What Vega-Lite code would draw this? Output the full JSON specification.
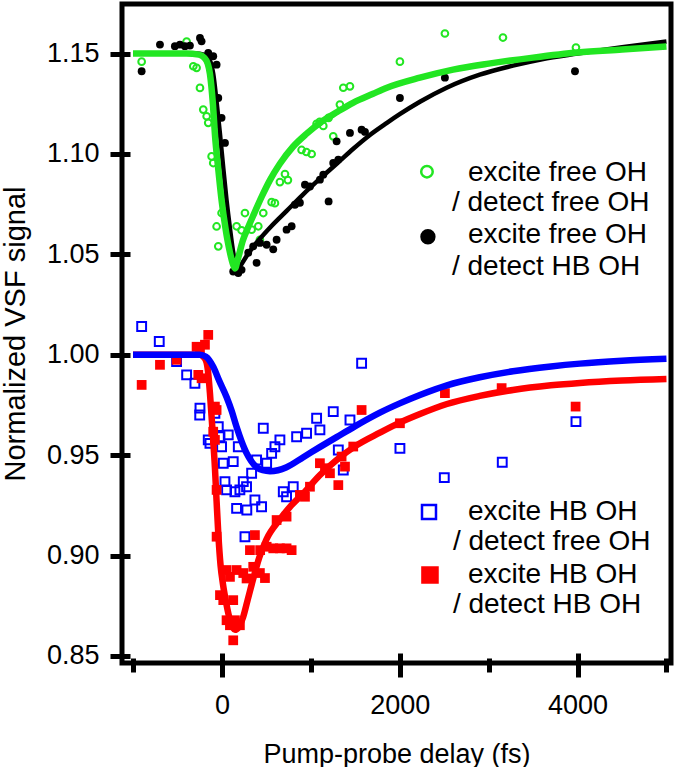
{
  "$schema": "https://vega.github.io/schema/vega-lite/v6.json",
  "width": 549,
  "height": 659,
  "autosize": {"type": "none"},
  "padding": {"left": 122, "top": 4, "right": 9, "bottom": 104},
  "background": "white",
  "config": {
    "view": {"stroke": "black", "strokeWidth": 5},
    "font": "Liberation Sans",
    "axis": {
      "grid": false,
      "domain": false,
      "labelFont": "Liberation Sans",
      "labelFontSize": 27,
      "labelColor": "black",
      "titleFont": "Liberation Sans",
      "titleFontSize": 27,
      "titleFontWeight": "normal",
      "titleColor": "black",
      "tickColor": "black",
      "tickWidth": 5
    }
  },
  "datasets": {
    "pts": [
      {"s":"ff","x":-903,"y":1.146},{"s":"ff","x":-397,"y":1.156},{"s":"ff","x":-322,"y":1.1437},{"s":"ff","x":-285,"y":1.1429},
      {"s":"ff","x":-247,"y":1.1329},{"s":"ff","x":-210,"y":1.1221},{"s":"ff","x":-172,"y":1.1188},{"s":"ff","x":-154,"y":1.1155},
      {"s":"ff","x":-116,"y":1.0988},{"s":"ff","x":-98,"y":1.0955},{"s":"ff","x":-60,"y":1.0639},{"s":"ff","x":-41,"y":1.054},
      {"s":"ff","x":-4,"y":1.0706},{"s":"ff","x":165,"y":1.064},{"s":"ff","x":221,"y":1.062},{"s":"ff","x":259,"y":1.0706},
      {"s":"ff","x":334,"y":1.0623},{"s":"ff","x":409,"y":1.064},{"s":"ff","x":427,"y":1.0573},{"s":"ff","x":465,"y":1.0706},
      {"s":"ff","x":559,"y":1.076},{"s":"ff","x":596,"y":1.0755},{"s":"ff","x":652,"y":1.086},{"s":"ff","x":709,"y":1.09},
      {"s":"ff","x":742,"y":1.087},{"s":"ff","x":896,"y":1.102},{"s":"ff","x":950,"y":1.101},{"s":"ff","x":1009,"y":1.1},
      {"s":"ff","x":1065,"y":1.115},{"s":"ff","x":1100,"y":1.116},{"s":"ff","x":1140,"y":1.114},{"s":"ff","x":1200,"y":1.118},
      {"s":"ff","x":1252,"y":1.1088},{"s":"ff","x":1327,"y":1.1246},{"s":"ff","x":1365,"y":1.133},{"s":"ff","x":1440,"y":1.1337},
      {"s":"ff","x":2002,"y":1.146},{"s":"ff","x":2508,"y":1.16},{"s":"ff","x":3161,"y":1.158},{"s":"ff","x":3982,"y":1.153},
      {"s":"fh","x":-903,"y":1.1412},{"s":"fh","x":-697,"y":1.1545},{"s":"fh","x":-529,"y":1.1537},{"s":"fh","x":-472,"y":1.1545},
      {"s":"fh","x":-416,"y":1.1537},{"s":"fh","x":-360,"y":1.154},{"s":"fh","x":-247,"y":1.1578},{"s":"fh","x":-229,"y":1.1561},
      {"s":"fh","x":-154,"y":1.1503},{"s":"fh","x":-98,"y":1.1487},{"s":"fh","x":-60,"y":1.1445},{"s":"fh","x":-41,"y":1.1279},
      {"s":"fh","x":-4,"y":1.118},{"s":"fh","x":34,"y":1.1055},{"s":"fh","x":127,"y":1.0415},{"s":"fh","x":184,"y":1.0407},
      {"s":"fh","x":221,"y":1.0423},{"s":"fh","x":296,"y":1.0508},{"s":"fh","x":352,"y":1.054},{"s":"fh","x":390,"y":1.0458},
      {"s":"fh","x":427,"y":1.0557},{"s":"fh","x":503,"y":1.0548},{"s":"fh","x":577,"y":1.0525},{"s":"fh","x":615,"y":1.0573},
      {"s":"fh","x":727,"y":1.0623},{"s":"fh","x":784,"y":1.064},{"s":"fh","x":821,"y":1.0747},{"s":"fh","x":877,"y":1.0757},
      {"s":"fh","x":934,"y":1.0847},{"s":"fh","x":990,"y":1.0838},{"s":"fh","x":1102,"y":1.0872},{"s":"fh","x":1140,"y":1.0897},
      {"s":"fh","x":1200,"y":1.0764},{"s":"fh","x":1252,"y":1.0955},{"s":"fh","x":1309,"y":1.0972},{"s":"fh","x":1290,"y":1.1063},
      {"s":"fh","x":1440,"y":1.1105},{"s":"fh","x":1571,"y":1.1121},{"s":"fh","x":1609,"y":1.111},{"s":"fh","x":2002,"y":1.1279},
      {"s":"fh","x":2508,"y":1.138},{"s":"fh","x":3971,"y":1.1412},
      {"s":"hf","x":-903,"y":1.0141},{"s":"hf","x":-705,"y":1.0066},{"s":"hf","x":-510,"y":0.9966},{"s":"hf","x":-397,"y":0.99},
      {"s":"hf","x":-304,"y":0.9858},{"s":"hf","x":-247,"y":0.9734},{"s":"hf","x":-250,"y":0.97},{"s":"hf","x":-154,"y":0.9576},
      {"s":"hf","x":-135,"y":0.9559},{"s":"hf","x":-79,"y":0.9709},{"s":"hf","x":-41,"y":0.9642},{"s":"hf","x":-22,"y":0.9592},
      {"s":"hf","x":-4,"y":0.9542},{"s":"hf","x":15,"y":0.946},{"s":"hf","x":34,"y":0.9368},{"s":"hf","x":52,"y":0.9327},
      {"s":"hf","x":71,"y":0.9601},{"s":"hf","x":127,"y":0.9468},{"s":"hf","x":184,"y":0.9542},{"s":"hf","x":146,"y":0.9318},
      {"s":"hf","x":202,"y":0.9327},{"s":"hf","x":240,"y":0.9368},{"s":"hf","x":277,"y":0.9343},{"s":"hf","x":165,"y":0.9235},
      {"s":"hf","x":280,"y":0.9227},{"s":"hf","x":371,"y":0.9277},{"s":"hf","x":446,"y":0.9243},{"s":"hf","x":259,"y":0.9094},
      {"s":"hf","x":334,"y":0.941},{"s":"hf","x":390,"y":0.9476},{"s":"hf","x":465,"y":0.9634},{"s":"hf","x":503,"y":0.946},
      {"s":"hf","x":559,"y":0.9509},{"s":"hf","x":596,"y":0.9542},{"s":"hf","x":652,"y":0.9576},{"s":"hf","x":690,"y":0.9318},
      {"s":"hf","x":727,"y":0.9293},{"s":"hf","x":802,"y":0.9343},{"s":"hf","x":840,"y":0.9592},{"s":"hf","x":952,"y":0.9609},
      {"s":"hf","x":1065,"y":0.9684},{"s":"hf","x":1102,"y":0.9626},{"s":"hf","x":1252,"y":0.9717},{"s":"hf","x":1309,"y":0.9526},
      {"s":"hf","x":1365,"y":0.9426},{"s":"hf","x":1440,"y":0.9675},{"s":"hf","x":1571,"y":0.9958},{"s":"hf","x":2002,"y":0.9534},
      {"s":"hf","x":2501,"y":0.9388},{"s":"hf","x":3153,"y":0.9465},{"s":"hf","x":3982,"y":0.9667},
      {"s":"hh","x":-903,"y":0.985},{"s":"hh","x":-697,"y":0.995},{"s":"hh","x":-510,"y":0.9975},{"s":"hh","x":-285,"y":1.004},
      {"s":"hh","x":-247,"y":1.0025},{"s":"hh","x":-154,"y":1.0099},{"s":"hh","x":-191,"y":1.005},{"s":"hh","x":-266,"y":0.99},
      {"s":"hh","x":-229,"y":0.9883},{"s":"hh","x":-79,"y":0.9742},{"s":"hh","x":-60,"y":0.9725},{"s":"hh","x":-98,"y":0.9617},
      {"s":"hh","x":-79,"y":0.9576},{"s":"hh","x":-60,"y":0.9327},{"s":"hh","x":-60,"y":0.9094},{"s":"hh","x":-22,"y":0.8803},
      {"s":"hh","x":15,"y":0.8778},{"s":"hh","x":52,"y":0.8928},{"s":"hh","x":90,"y":0.8894},{"s":"hh","x":127,"y":0.8778},
      {"s":"hh","x":52,"y":0.8678},{"s":"hh","x":90,"y":0.8653},{"s":"hh","x":146,"y":0.8678},{"s":"hh","x":202,"y":0.8653},
      {"s":"hh","x":127,"y":0.8578},{"s":"hh","x":165,"y":0.8928},{"s":"hh","x":240,"y":0.8913},{"s":"hh","x":277,"y":0.8886},
      {"s":"hh","x":352,"y":0.8944},{"s":"hh","x":427,"y":0.8913},{"s":"hh","x":484,"y":0.8888},{"s":"hh","x":315,"y":0.9027},
      {"s":"hh","x":371,"y":0.9102},{"s":"hh","x":430,"y":0.9027},{"s":"hh","x":503,"y":0.9044},{"s":"hh","x":577,"y":0.9036},
      {"s":"hh","x":652,"y":0.9036},{"s":"hh","x":727,"y":0.9036},{"s":"hh","x":784,"y":0.9027},{"s":"hh","x":615,"y":0.9177},
      {"s":"hh","x":727,"y":0.9194},{"s":"hh","x":877,"y":0.9302},{"s":"hh","x":934,"y":0.9293},{"s":"hh","x":990,"y":0.9343},
      {"s":"hh","x":1102,"y":0.946},{"s":"hh","x":1159,"y":0.9435},{"s":"hh","x":1215,"y":0.941},{"s":"hh","x":1309,"y":0.9351},
      {"s":"hh","x":1346,"y":0.9493},{"s":"hh","x":1384,"y":0.9443},{"s":"hh","x":1477,"y":0.9543},{"s":"hh","x":1571,"y":0.9725},
      {"s":"hh","x":2002,"y":0.9659},{"s":"hh","x":2508,"y":0.9809},{"s":"hh","x":3146,"y":0.9834},{"s":"hh","x":3978,"y":0.9742}
    ],
    "fits": [
      {"s":"fh","x":-1000,"y":1.15},{"s":"fh","x":-300,"y":1.15},{"s":"fh","x":-200,"y":1.1495},{"s":"fh","x":-140,"y":1.147},
      {"s":"fh","x":-98,"y":1.14},{"s":"fh","x":-60,"y":1.126},{"s":"fh","x":-22,"y":1.11},{"s":"fh","x":15,"y":1.093},
      {"s":"fh","x":52,"y":1.077},{"s":"fh","x":90,"y":1.063},{"s":"fh","x":127,"y":1.051},{"s":"fh","x":150,"y":1.046},
      {"s":"fh","x":170,"y":1.043},{"s":"fh","x":210,"y":1.0445},{"s":"fh","x":260,"y":1.048},{"s":"fh","x":330,"y":1.0525},
      {"s":"fh","x":427,"y":1.0578},{"s":"fh","x":550,"y":1.0638},{"s":"fh","x":731,"y":1.0718},{"s":"fh","x":900,"y":1.0793},
      {"s":"fh","x":1102,"y":1.0877},{"s":"fh","x":1300,"y":1.0955},{"s":"fh","x":1474,"y":1.1025},{"s":"fh","x":1650,"y":1.109},
      {"s":"fh","x":1856,"y":1.1155},{"s":"fh","x":2000,"y":1.1198},{"s":"fh","x":2227,"y":1.126},{"s":"fh","x":2527,"y":1.133},
      {"s":"fh","x":2900,"y":1.1395},{"s":"fh","x":3273,"y":1.144},{"s":"fh","x":3600,"y":1.1472},{"s":"fh","x":4000,"y":1.15},
      {"s":"fh","x":4500,"y":1.1532},{"s":"fh","x":5000,"y":1.156},
      {"s":"ff","x":-1000,"y":1.15},{"s":"ff","x":-400,"y":1.15},{"s":"ff","x":-260,"y":1.1495},{"s":"ff","x":-200,"y":1.148},
      {"s":"ff","x":-160,"y":1.145},{"s":"ff","x":-135,"y":1.14},{"s":"ff","x":-100,"y":1.124},{"s":"ff","x":-79,"y":1.11},
      {"s":"ff","x":-40,"y":1.092},{"s":"ff","x":-4,"y":1.077},{"s":"ff","x":40,"y":1.063},{"s":"ff","x":90,"y":1.051},
      {"s":"ff","x":125,"y":1.045},{"s":"ff","x":148,"y":1.043},{"s":"ff","x":175,"y":1.047},{"s":"ff","x":236,"y":1.057},
      {"s":"ff","x":300,"y":1.064},{"s":"ff","x":349,"y":1.069},{"s":"ff","x":450,"y":1.079},{"s":"ff","x":540,"y":1.087},
      {"s":"ff","x":650,"y":1.095},{"s":"ff","x":799,"y":1.1036},{"s":"ff","x":950,"y":1.11},{"s":"ff","x":1102,"y":1.1155},
      {"s":"ff","x":1300,"y":1.121},{"s":"ff","x":1474,"y":1.1255},{"s":"ff","x":1700,"y":1.13},{"s":"ff","x":1856,"y":1.133},
      {"s":"ff","x":2227,"y":1.138},{"s":"ff","x":2600,"y":1.142},{"s":"ff","x":3000,"y":1.145},{"s":"ff","x":3500,"y":1.148},
      {"s":"ff","x":4000,"y":1.1505},{"s":"ff","x":4500,"y":1.152},{"s":"ff","x":5000,"y":1.1535},
      {"s":"hh","x":-1000,"y":1.0},{"s":"hh","x":-250,"y":1.0},{"s":"hh","x":-190,"y":0.998},{"s":"hh","x":-160,"y":0.993},
      {"s":"hh","x":-135,"y":0.981},{"s":"hh","x":-110,"y":0.965},{"s":"hh","x":-79,"y":0.944},{"s":"hh","x":-60,"y":0.927},
      {"s":"hh","x":-41,"y":0.911},{"s":"hh","x":-15,"y":0.895},{"s":"hh","x":11,"y":0.886},{"s":"hh","x":50,"y":0.876},
      {"s":"hh","x":90,"y":0.868},{"s":"hh","x":146,"y":0.863},{"s":"hh","x":190,"y":0.8645},{"s":"hh","x":236,"y":0.869},
      {"s":"hh","x":290,"y":0.878},{"s":"hh","x":349,"y":0.888},{"s":"hh","x":420,"y":0.899},{"s":"hh","x":500,"y":0.908},
      {"s":"hh","x":652,"y":0.918},{"s":"hh","x":780,"y":0.925},{"s":"hh","x":915,"y":0.931},{"s":"hh","x":1100,"y":0.94},
      {"s":"hh","x":1290,"y":0.9476},{"s":"hh","x":1500,"y":0.9545},{"s":"hh","x":1777,"y":0.9612},{"s":"hh","x":2000,"y":0.9662},
      {"s":"hh","x":2227,"y":0.9705},{"s":"hh","x":2531,"y":0.9755},{"s":"hh","x":2900,"y":0.9795},{"s":"hh","x":3273,"y":0.9825},
      {"s":"hh","x":3700,"y":0.9848},{"s":"hh","x":4027,"y":0.986},{"s":"hh","x":4500,"y":0.9872},{"s":"hh","x":5000,"y":0.988},
      {"s":"hf","x":-1000,"y":1.0},{"s":"hf","x":-250,"y":1.0},{"s":"hf","x":-180,"y":0.999},{"s":"hf","x":-98,"y":0.994},
      {"s":"hf","x":-30,"y":0.987},{"s":"hf","x":52,"y":0.979},{"s":"hf","x":110,"y":0.972},{"s":"hf","x":165,"y":0.964},
      {"s":"hf","x":220,"y":0.957},{"s":"hf","x":277,"y":0.951},{"s":"hf","x":330,"y":0.947},{"s":"hf","x":390,"y":0.944},
      {"s":"hf","x":460,"y":0.9425},{"s":"hf","x":540,"y":0.942},{"s":"hf","x":630,"y":0.9425},{"s":"hf","x":727,"y":0.944},
      {"s":"hf","x":915,"y":0.949},{"s":"hf","x":1100,"y":0.954},{"s":"hf","x":1290,"y":0.959},{"s":"hf","x":1500,"y":0.9645},
      {"s":"hf","x":1777,"y":0.9712},{"s":"hf","x":2000,"y":0.9758},{"s":"hf","x":2227,"y":0.98},{"s":"hf","x":2531,"y":0.9848},
      {"s":"hf","x":2900,"y":0.9888},{"s":"hf","x":3273,"y":0.9918},{"s":"hf","x":3700,"y":0.9942},{"s":"hf","x":4027,"y":0.9956},
      {"s":"hf","x":4500,"y":0.997},{"s":"hf","x":5000,"y":0.998}
    ],
    "legsym": [
      {"s":"ff","x":2306,"y":1.0912},
      {"s":"fh","x":2317,"y":1.0588},
      {"s":"hf","x":2329,"y":0.9217},
      {"s":"hh","x":2340,"y":0.8903}
    ],
    "legtxt": [
      {"t":"excite free OH","x":2767,"y":1.0907},
      {"t":"/ detect free OH","x":2587,"y":1.0757},
      {"t":"excite free OH","x":2767,"y":1.0598},
      {"t":"/ detect HB OH","x":2587,"y":1.0438},
      {"t":"excite HB OH","x":2767,"y":0.9217},
      {"t":"/ detect free OH","x":2598,"y":0.9067},
      {"t":"excite HB OH","x":2767,"y":0.8903},
      {"t":"/ detect HB OH","x":2598,"y":0.8753}
    ]
  },
  "resolve": {"axis": {"x": "independent", "y": "independent"}, "scale": {"size": "independent"}},
  "layer": [
    {
      "data": {"name": "pts"},
      "transform": [{"filter": {"field": "s", "oneOf": ["ff", "hf"]}}],
      "mark": {"type": "point", "filled": false, "strokeWidth": 2, "opacity": 1},
      "encoding": {
        "x": {"field": "x", "type": "quantitative", "scale": {"domain": [-1124, 5051], "nice": false, "zero": false},
              "axis": {"orient": "bottom", "values": [-1000, 1000, 3000, 5000], "tickSize": 14, "offset": -5, "labels": false, "title": null}},
        "y": {"field": "y", "type": "quantitative", "scale": {"domain": [0.8465, 1.1747], "nice": false, "zero": false},
              "axis": {"orient": "left", "values": [0.85, 0.9, 0.95, 1.0, 1.05, 1.1, 1.15], "format": ".2f", "tickSize": 20, "offset": -8, "labelPadding": 11, "title": "Normalized VSF signal", "titleFontSize": 29, "titlePadding": 16}},
        "color": {"field": "s", "type": "nominal", "scale": {"domain": ["ff", "fh", "hf", "hh"], "range": ["#22e622", "#000000", "#0000ff", "#ff0000"]}, "legend": null},
        "shape": {"field": "s", "type": "nominal", "scale": {"domain": ["ff", "fh", "hf", "hh"], "range": ["circle", "circle", "square", "square"]}, "legend": null},
        "size": {"field": "s", "type": "nominal", "scale": {"domain": ["ff", "fh", "hf", "hh"], "range": [45, 95, 56, 100]}, "legend": null}
      }
    },
    {
      "data": {"name": "pts"},
      "transform": [{"filter": {"field": "s", "oneOf": ["fh", "hh"]}}],
      "mark": {"type": "point", "filled": true, "opacity": 1},
      "encoding": {
        "x": {"field": "x", "type": "quantitative", "scale": {"domain": [-1124, 5051], "nice": false, "zero": false}, "axis": null},
        "y": {"field": "y", "type": "quantitative", "scale": {"domain": [0.8465, 1.1747], "nice": false, "zero": false}, "axis": null},
        "color": {"field": "s", "type": "nominal", "scale": {"domain": ["ff", "fh", "hf", "hh"], "range": ["#22e622", "#000000", "#0000ff", "#ff0000"]}, "legend": null},
        "shape": {"field": "s", "type": "nominal", "scale": {"domain": ["ff", "fh", "hf", "hh"], "range": ["circle", "circle", "square", "square"]}, "legend": null},
        "size": {"field": "s", "type": "nominal", "scale": {"domain": ["ff", "fh", "hf", "hh"], "range": [45, 95, 56, 100]}, "legend": null}
      }
    },
    {
      "data": {"name": "fits"},
      "transform": [{"filter": {"field": "s", "equal": "fh"}}],
      "mark": {"type": "line", "interpolate": "monotone", "strokeWidth": 4.5, "color": "#000000"},
      "encoding": {
        "x": {"field": "x", "type": "quantitative", "scale": {"domain": [-1124, 5051], "nice": false, "zero": false},
              "axis": {"orient": "bottom", "values": [0, 2000, 4000], "format": "d", "tickSize": 24, "offset": -10, "labelPadding": 15, "title": "Pump-probe delay (fs)", "titlePadding": 23}},
        "y": {"field": "y", "type": "quantitative", "scale": {"domain": [0.8465, 1.1747], "nice": false, "zero": false}, "axis": null}
      }
    },
    {
      "data": {"name": "fits"},
      "transform": [{"filter": {"field": "s", "oneOf": ["ff", "hh", "hf"]}}],
      "mark": {"type": "line", "interpolate": "monotone", "strokeWidth": 6.5},
      "encoding": {
        "x": {"field": "x", "type": "quantitative", "scale": {"domain": [-1124, 5051], "nice": false, "zero": false}, "axis": null},
        "y": {"field": "y", "type": "quantitative", "scale": {"domain": [0.8465, 1.1747], "nice": false, "zero": false}, "axis": null},
        "color": {"field": "s", "type": "nominal", "scale": {"domain": ["ff", "fh", "hf", "hh"], "range": ["#22e622", "#000000", "#0000ff", "#ff0000"]}, "legend": null}
      }
    },
    {
      "data": {"name": "legsym"},
      "mark": {"type": "point", "opacity": 1, "strokeWidth": 2.5},
      "encoding": {
        "x": {"field": "x", "type": "quantitative", "scale": {"domain": [-1124, 5051], "nice": false, "zero": false}, "axis": null},
        "y": {"field": "y", "type": "quantitative", "scale": {"domain": [0.8465, 1.1747], "nice": false, "zero": false}, "axis": null},
        "color": {"field": "s", "type": "nominal", "scale": {"domain": ["ff", "fh", "hf", "hh"], "range": ["#22e622", "#000000", "#0000ff", "#ff0000"]}, "legend": null},
        "fill": {"field": "s", "type": "nominal", "scale": {"domain": ["ff", "fh", "hf", "hh"], "range": ["transparent", "#000000", "transparent", "#ff0000"]}, "legend": null},
        "shape": {"field": "s", "type": "nominal", "scale": {"domain": ["ff", "fh", "hf", "hh"], "range": ["circle", "circle", "square", "square"]}, "legend": null},
        "size": {"field": "s", "type": "nominal", "scale": {"domain": ["ff", "fh", "hf", "hh"], "range": [133, 227, 306, 400]}, "legend": null}
      }
    },
    {
      "data": {"name": "legtxt"},
      "mark": {"type": "text", "align": "left", "baseline": "middle", "fontSize": 28, "font": "Liberation Sans", "color": "black"},
      "encoding": {
        "x": {"field": "x", "type": "quantitative", "scale": {"domain": [-1124, 5051], "nice": false, "zero": false}, "axis": null},
        "y": {"field": "y", "type": "quantitative", "scale": {"domain": [0.8465, 1.1747], "nice": false, "zero": false}, "axis": null},
        "text": {"field": "t", "type": "nominal"}
      }
    }
  ]
}
